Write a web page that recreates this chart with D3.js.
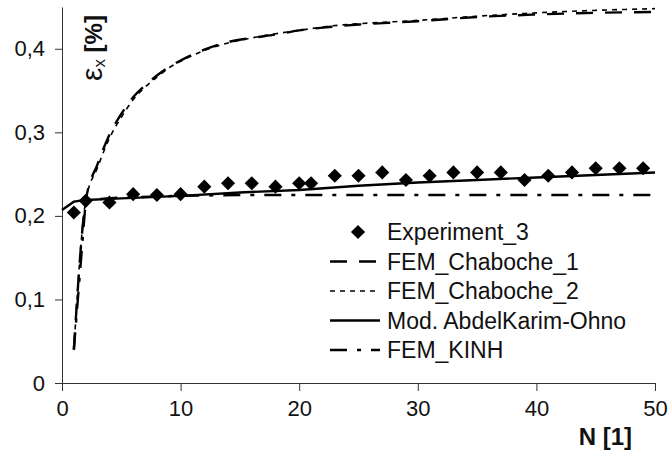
<!DOCTYPE html>
<html>
<head>
<meta charset="utf-8">
<script src="https://cdn.jsdelivr.net/npm/d3@7/dist/d3.min.js"></script>
<style>
  body { margin: 0; background: #fff; }
  svg { display: block; font-family: 'Liberation Sans', Arial, sans-serif; }
  .axis path, .axis line { stroke: #333; }
  .axis text { fill: #111; font-size: 22px; }
</style>
</head>
<body>
<svg id="chart" width="669" height="455"></svg>
<script>
// Experiment_3 points
const expN = [1, 2, 4, 6, 8, 10, 12, 14, 16, 18, 20, 21, 23, 25, 27, 29, 31, 33, 35, 37, 39, 41, 43, 45, 47, 49];
const expV = [0.204, 0.218, 0.216, 0.226, 0.225, 0.226, 0.235, 0.239, 0.239, 0.235, 0.239, 0.239, 0.248, 0.248,
  0.252, 0.243, 0.248, 0.252, 0.252, 0.252, 0.243, 0.248, 0.252, 0.257, 0.257, 0.257];

// FEM Chaboche curves
const femN = [1, 2, 3, 4, 5, 6, 7, 8, 9, 10, 12, 14, 16, 18, 20, 22.5, 25, 27.5, 30, 35, 40, 45, 50];
const chab1V = [0.04, 0.218, 0.262, 0.297, 0.322, 0.342, 0.356, 0.368, 0.378, 0.386, 0.399, 0.408, 0.413, 0.417,
  0.422, 0.426, 0.429, 0.431, 0.433, 0.438, 0.441, 0.443, 0.444];
const chab2V = [0.04, 0.218, 0.258, 0.293, 0.318, 0.339, 0.354, 0.366, 0.377, 0.385, 0.398, 0.407, 0.413, 0.418,
  0.422, 0.427, 0.430, 0.432, 0.434, 0.439, 0.443, 0.446, 0.448];

// Mod. AbdelKarim-Ohno
const modN = [0, 1, 2, 5, 10, 15, 20, 25, 30, 35, 40, 45, 50];
const modV = [0.207, 0.217, 0.219, 0.221, 0.224, 0.228, 0.231, 0.236, 0.240, 0.243, 0.246, 0.249, 0.252];

// FEM_KINH
const kinhN = [1, 2, 3, 5, 10, 15, 20, 30, 40, 50];
const kinhV = [0.04, 0.218, 0.220, 0.222, 0.224, 0.225, 0.225, 0.225, 0.225, 0.225];

const xTicks = [0, 10, 20, 30, 40, 50];
const yTicks = [0, 0.1, 0.2, 0.3, 0.4];

const legendNames = ['Experiment_3', 'FEM_Chaboche_1', 'FEM_Chaboche_2', 'Mod. AbdelKarim-Ohno', 'FEM_KINH'];

const svg = d3.select('#chart');

const x = d3.scaleLinear().domain([0, 50]).range([62, 655]);
const y = d3.scaleLinear().domain([0, 0.45]).range([383, 7]);

const comma = d3.formatLocale({decimal: ',', thousands: '.', grouping: [3], currency: ['', '']}).format('~g');

// axes
svg.append('g')
    .attr('class', 'axis')
    .attr('transform', 'translate(0,' + y(0) + ')')
    .call(d3.axisBottom(x).tickValues(xTicks).tickSizeInner(8).tickSizeOuter(0).tickPadding(9))
    .call((g) => g.select('.domain').attr('d', 'M' + (x(0) - 7) + ',0.5H' + x(50)));

svg.append('g')
    .attr('class', 'axis')
    .attr('transform', 'translate(' + x(0) + ',0)')
    .call(d3.axisLeft(y).tickValues(yTicks).tickFormat((d) => d === 0 ? '0' : comma(d))
        .tickSizeInner(7).tickSizeOuter(0).tickPadding(10));

const series = [
  {n: femN, v: chab1V, dash: '17,12', w: 2.4, curve: d3.curveMonotoneX},
  {n: femN, v: chab2V, dash: '5,5', w: 1.6, curve: d3.curveMonotoneX},
  {n: modN, v: modV, dash: null, w: 2.4, curve: d3.curveLinear},
  {n: kinhN, v: kinhV, dash: '17,10,4,10', w: 2.4, curve: d3.curveLinear},
];

series.forEach((s) => {
  const line = d3.line()
      .x((d) => x(d[0]))
      .y((d) => y(d[1]))
      .curve(s.curve);
  svg.append('path')
      .datum(s.n.map((n, i) => [n, s.v[i]]))
      .attr('d', line)
      .attr('fill', 'none')
      .attr('stroke', '#000')
      .attr('stroke-width', s.w)
      .attr('stroke-dasharray', s.dash);
});

const diamond = d3.symbol().type(d3.symbolSquare).size(100);

svg.append('g')
    .selectAll('path')
    .data(expN.map((n, i) => [n, expV[i]]))
    .enter()
    .append('path')
    .attr('d', diamond)
    .attr('transform', (d) => 'translate(' + x(d[0]) + ',' + y(d[1]) + ') rotate(45)')
    .attr('fill', '#000');

// legend
const legend = svg.append('g').attr('transform', 'translate(330,232)');
const rowH = 29.5;

legendNames.forEach((name, i) => {
  const row = legend.append('g').attr('transform', 'translate(0,' + (i * rowH) + ')');
  if (i === 0) {
    row.append('path')
        .attr('d', diamond)
        .attr('transform', 'translate(28,0) rotate(45)')
        .attr('fill', '#000');
  } else {
    const s = series[i - 1];
    row.append('line')
        .attr('x1', 0).attr('x2', 50)
        .attr('y1', 0).attr('y2', 0)
        .attr('stroke', '#000')
        .attr('stroke-width', s.w)
        .attr('stroke-dasharray', s.dash);
  }
  row.append('text')
      .attr('x', 57)
      .attr('dy', '0.36em')
      .attr('font-size', 23)
      .attr('fill', '#111')
      .text(name);
});

// axis titles
const yTitle = svg.append('text')
    .attr('transform', 'translate(102,48) rotate(-90)')
    .attr('text-anchor', 'middle')
    .attr('font-size', 24)
    .attr('font-weight', 'bold')
    .attr('fill', '#111');
yTitle.append('tspan').attr('font-size', 30).attr('font-weight', 'normal').text('ε');
yTitle.append('tspan').attr('font-size', 17).attr('font-weight', 'normal').attr('dy', 3).text('x');
yTitle.append('tspan').attr('dy', -3).text(' [%]');

svg.append('text')
    .attr('x', 632)
    .attr('y', 445)
    .attr('text-anchor', 'end')
    .attr('font-size', 24)
    .attr('font-weight', 'bold')
    .attr('fill', '#111')
    .text('N [1]');
</script>
</body>
</html>
